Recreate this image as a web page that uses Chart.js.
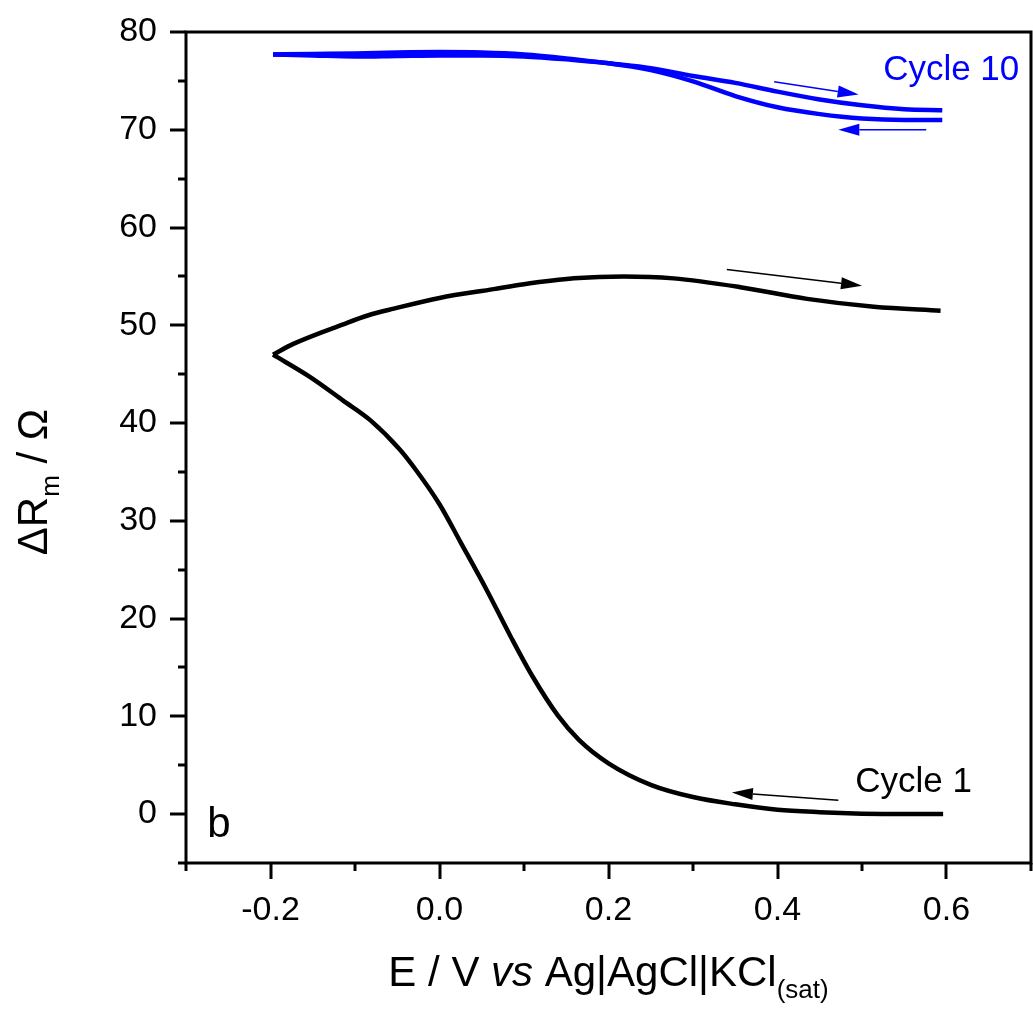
<!DOCTYPE html>
<html>
<head>
<meta charset="utf-8">
<script src="https://cdn.jsdelivr.net/npm/chart.js@4.4.1/dist/chart.umd.min.js"></script>
<style>
  html, body { margin: 0; padding: 0; background: #fff; }
</style>
</head>
<body>
<canvas id="chart" width="1033" height="1012"></canvas>
<script>
// Cycle 1, scan from +0.6 V back to -0.2 V (lower branch)
const cycle1BackE = [0.596, 0.55, 0.5, 0.45, 0.4, 0.35, 0.3, 0.25, 0.2, 0.165, 0.14, 0.11, 0.084, 0.056, 0.025, 0.0, -0.027, -0.047, -0.082, -0.114, -0.153, -0.197];
const cycle1BackR = [0.0, 0.0, 0.05, 0.2, 0.45, 1.0, 1.75, 3.0, 5.2, 7.6, 10.1, 14.1, 18.2, 22.9, 27.8, 31.7, 35.1, 37.3, 40.3, 42.3, 44.7, 47.0];
// Cycle 1, scan from -0.2 V to +0.6 V (upper branch)
const cycle1FwdE = [-0.197, -0.173, -0.114, -0.085, -0.054, 0.0, 0.064, 0.1, 0.159, 0.218, 0.277, 0.356, 0.435, 0.514, 0.593];
const cycle1FwdR = [47.0, 48.1, 50.1, 51.0, 51.7, 52.8, 53.7, 54.2, 54.8, 55.0, 54.8, 53.9, 52.7, 51.9, 51.5];
// Cycle 10
const cycle10FwdE = [-0.197, -0.15, -0.1, -0.05, 0.0, 0.05, 0.1, 0.15, 0.2, 0.25, 0.3, 0.35, 0.4, 0.45, 0.5, 0.55, 0.595];
const cycle10FwdR = [77.7, 77.75, 77.8, 77.9, 77.95, 77.9, 77.7, 77.3, 76.8, 76.3, 75.5, 74.8, 73.9, 73.1, 72.5, 72.1, 72.0];
const cycle10BackE = [0.595, 0.55, 0.5, 0.45, 0.4, 0.35, 0.3, 0.25, 0.2, 0.15, 0.1, 0.05, 0.0, -0.05, -0.1, -0.15, -0.197];
const cycle10BackR = [71.0, 71.0, 71.15, 71.6, 72.3, 73.45, 74.95, 76.1, 76.8, 77.2, 77.5, 77.6, 77.6, 77.55, 77.5, 77.6, 77.7];

const xTicks = [-0.2, 0.0, 0.2, 0.4, 0.6];
const yTicks = [0, 10, 20, 30, 40, 50, 60, 70, 80];
const xMinorStep = 0.1;
const yMinorStep = 5;

// arrows: [fromE, fromR, toE, toR, colour]
const arrows = [
    [0.340, 55.7, 0.500, 54.05, "#000"],
    [0.472, 1.43, 0.346, 2.21, "#000"],
    [0.396, 74.9, 0.496, 73.6, "#0000ff"],
    [0.576, 70.0, 0.472, 70.0, "#0000ff"]
];
// text labels: [text, E, R (baseline), colour]
const labels = [
    ["Cycle 1", 0.492, 2.3, "#000"],
    ["Cycle 10", 0.525, 75.05, "#0000ff"],
    ["b", -0.275, -2.3, "#000"]
];

const FONT = "'Liberation Sans', Arial, sans-serif";

function toPoints(es, rs) {
    return es.map((e, i) => ({ x: e, y: rs[i] }));
}

function drawRich(ctx, parts, x, y) {
    let total = 0;
    parts.forEach(p => {
        ctx.font = (p.italic ? "italic " : "") + p.size + "px " + FONT;
        p.w = ctx.measureText(p.t).width;
        total += p.w;
    });
    let cx = x - total / 2;
    parts.forEach(p => {
        ctx.font = (p.italic ? "italic " : "") + p.size + "px " + FONT;
        ctx.fillText(p.t, cx, y + (p.dy || 0));
        cx += p.w;
    });
}

const decorPlugin = {
    id: "decor",
    afterDraw(chart) {
        const ctx = chart.ctx;
        const a = chart.chartArea;
        const xs = chart.scales.x;
        const ys = chart.scales.y;
        ctx.save();
        ctx.strokeStyle = "#000";
        ctx.fillStyle = "#000";
        ctx.lineWidth = 3;
        ctx.strokeRect(a.left, a.top, a.right - a.left, a.bottom - a.top);

        // x ticks, major and minor
        for (let v = xs.min; v <= xs.max + 1e-9; v += xMinorStep) {
            const isMajor = xTicks.some(t => Math.abs(t - v) < 1e-6);
            const px = Math.round(xs.getPixelForValue(v));
            ctx.beginPath();
            ctx.moveTo(px, a.bottom);
            ctx.lineTo(px, a.bottom + (isMajor ? 16 : 8));
            ctx.stroke();
        }
        for (let v = ys.min; v <= ys.max + 1e-9; v += yMinorStep) {
            const isMajor = yTicks.some(t => Math.abs(t - v) < 1e-6);
            const py = Math.round(ys.getPixelForValue(v));
            ctx.beginPath();
            ctx.moveTo(a.left, py);
            ctx.lineTo(a.left - (isMajor ? 16 : 8), py);
            ctx.stroke();
        }

        // arrows
        arrows.forEach(([e0, r0, e1, r1, col]) => {
            const x0 = xs.getPixelForValue(e0), y0 = ys.getPixelForValue(r0);
            const x1 = xs.getPixelForValue(e1), y1 = ys.getPixelForValue(r1);
            const ang = Math.atan2(y1 - y0, x1 - x0);
            const len = 21, half = 6;
            const bx = x1 - len * Math.cos(ang), by = y1 - len * Math.sin(ang);
            ctx.strokeStyle = col;
            ctx.fillStyle = col;
            ctx.lineWidth = 1.5;
            ctx.beginPath();
            ctx.moveTo(x0, y0);
            ctx.lineTo(bx, by);
            ctx.stroke();
            ctx.beginPath();
            ctx.moveTo(x1, y1);
            ctx.lineTo(bx + half * Math.sin(ang), by - half * Math.cos(ang));
            ctx.lineTo(bx - half * Math.sin(ang), by + half * Math.cos(ang));
            ctx.closePath();
            ctx.fill();
        });

        // labels
        ctx.textAlign = "left";
        ctx.textBaseline = "alphabetic";
        labels.forEach(([t, e, r, col]) => {
            ctx.fillStyle = col;
            ctx.font = (t === "b" ? 42 : 35) + "px " + FONT;
            ctx.fillText(t, xs.getPixelForValue(e), ys.getPixelForValue(r));
        });

        // axis titles
        ctx.fillStyle = "#000";
        drawRich(ctx, [
            { t: "E / V ", size: 42 },
            { t: "vs", size: 42, italic: true },
            { t: " Ag|AgCl|KCl", size: 42 },
            { t: "(sat)", size: 26, dy: 12 }
        ], (a.left + a.right) / 2, 986);

        ctx.translate(47, 482);
        ctx.rotate(-Math.PI / 2);
        drawRich(ctx, [
            { t: "\u0394R", size: 42 },
            { t: "m", size: 26, dy: 12 },
            { t: " / \u03A9", size: 42 }
        ], 0, 0);
        ctx.restore();
    }
};

const lineStyle = (col) => ({
    showLine: true,
    borderColor: col,
    backgroundColor: col,
    borderWidth: 4.5,
    pointRadius: 0,
    cubicInterpolationMode: "monotone",
    fill: false
});

new Chart(document.getElementById("chart"), {
    type: "scatter",
    data: {
        datasets: [
            Object.assign({ label: "Cycle 1 back", data: toPoints(cycle1BackE, cycle1BackR) }, lineStyle("#000")),
            Object.assign({ label: "Cycle 1 forward", data: toPoints(cycle1FwdE, cycle1FwdR) }, lineStyle("#000")),
            Object.assign({ label: "Cycle 10 forward", data: toPoints(cycle10FwdE, cycle10FwdR) }, lineStyle("#0000ff")),
            Object.assign({ label: "Cycle 10 back", data: toPoints(cycle10BackE, cycle10BackR) }, lineStyle("#0000ff"))
        ]
    },
    options: {
        responsive: false,
        animation: false,
        devicePixelRatio: 1,
        layout: { padding: { top: 32, right: 2, left: 0, bottom: 0 } },
        plugins: {
            legend: { display: false },
            tooltip: { enabled: false }
        },
        scales: {
            x: {
                type: "linear",
                min: -0.3,
                max: 0.7,
                afterBuildTicks: s => { s.ticks = xTicks.map(v => ({ value: v })); },
                afterFit: s => { s.height = 149; s.paddingLeft = 0; s.paddingRight = 0; },
                grid: { display: false, drawTicks: false },
                border: { display: false },
                ticks: {
                    color: "#000",
                    padding: 27,
                    maxRotation: 0,
                    font: { family: FONT, size: 34 },
                    callback: v => v.toFixed(1)
                }
            },
            y: {
                type: "linear",
                min: -5,
                max: 80,
                afterBuildTicks: s => { s.ticks = yTicks.map(v => ({ value: v })); },
                afterFit: s => { s.width = 186; s.paddingTop = 0; s.paddingBottom = 0; },
                grid: { display: false, drawTicks: false },
                border: { display: false },
                ticks: {
                    color: "#000",
                    padding: 29,
                    font: { family: FONT, size: 34 },
                    callback: v => String(v)
                }
            }
        }
    },
    plugins: [decorPlugin]
});
</script>
</body>
</html>
